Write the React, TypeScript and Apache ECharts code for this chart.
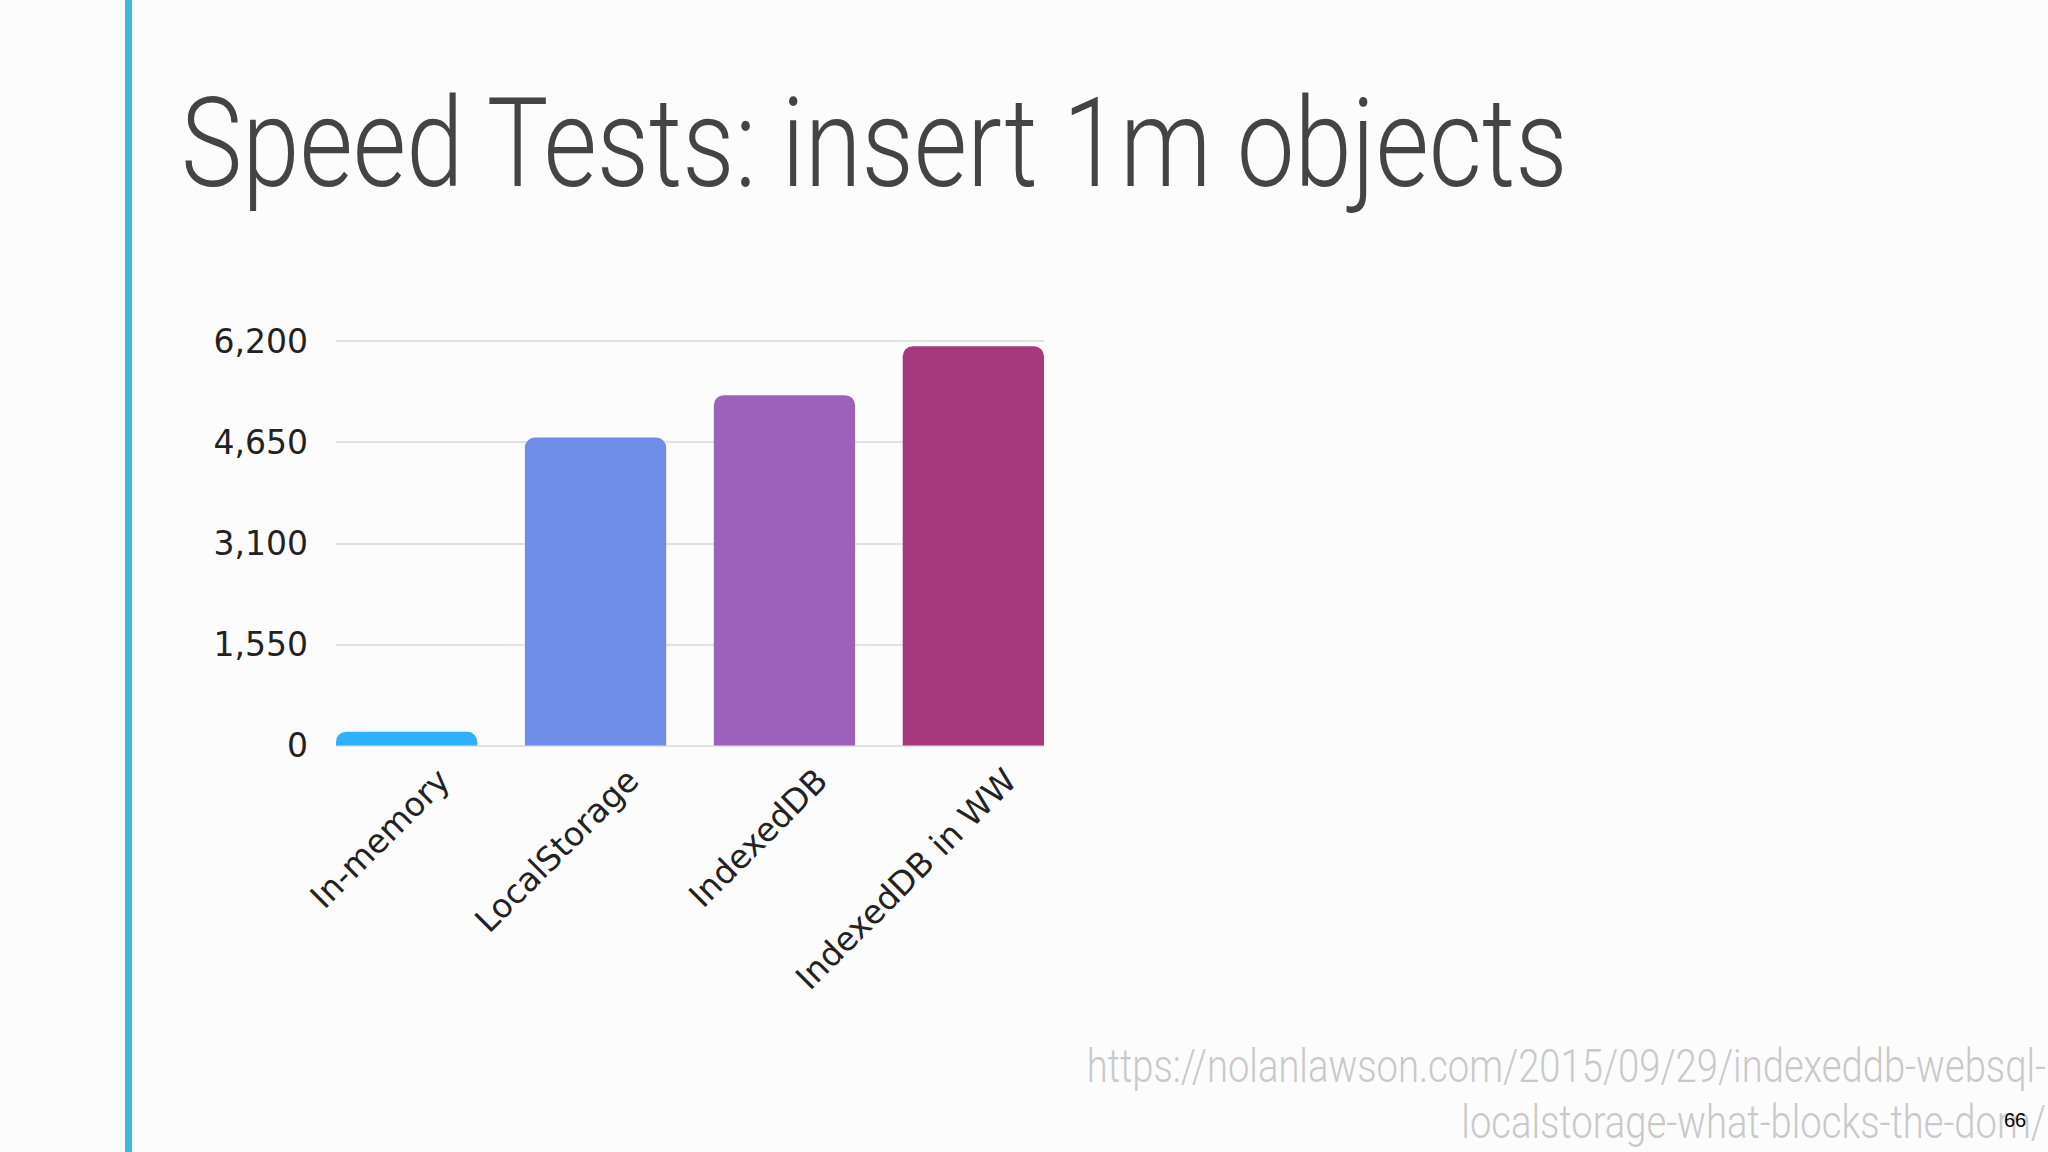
import React, { useEffect, useRef } from "react";
import * as echarts from "echarts";

const categories = ["In-memory", "LocalStorage", "IndexedDB", "IndexedDB in WW"];
const insertTimes = [210, 4720, 5370, 6120];
const barColors = ["#2fb0fa", "#6f8de6", "#9c62bb", "#a6397d"];
const yMin = 0;
const yMax = 6200;
const yInterval = 1550;
const titleText = "Speed Tests: insert 1m objects";
const sourceLines = [
  "https://nolanlawson.com/2015/09/29/indexeddb-websql-",
  "localstorage-what-blocks-the-dom/",
];
const pageNumber = "66";

export default function App() {
  const ref = useRef<HTMLDivElement>(null);

  useEffect(() => {
    if (!ref.current) return;
    const chart = echarts.init(ref.current, undefined, { renderer: "svg" });
    const labelFont = { fontFamily: "DejaVu Sans", fontSize: 33, color: "#222" };
    const plotTop = 341;
    const plotHeight = 404.5;
    const barGridLeft = 312.2;
    const barGridWidth = 755.6;

    const option: any = {
      animation: false,
      backgroundColor: "#fcfcfc",
      grid: [
        { left: 336, width: 708, top: plotTop, height: plotHeight },
        { left: barGridLeft, width: barGridWidth, top: plotTop, height: plotHeight },
        { left: barGridLeft + 37, width: barGridWidth, top: plotTop, height: plotHeight },
      ],
      xAxis: [
        { type: "category", gridIndex: 0, data: categories, show: false },
        { type: "category", gridIndex: 1, data: categories, show: false },
        {
          type: "category",
          gridIndex: 2,
          data: categories,
          axisLine: { show: false },
          axisTick: { show: false },
          axisLabel: { ...labelFont, rotate: 45, margin: 29, interval: 0 },
        },
      ],
      yAxis: [
        {
          type: "value",
          gridIndex: 0,
          min: yMin,
          max: yMax,
          interval: yInterval,
          axisLine: { show: false },
          axisTick: { show: false },
          axisLabel: {
            ...labelFont,
            margin: 28,
            formatter: (v: number) => v.toLocaleString("en-US"),
          },
          splitLine: { lineStyle: { color: "#e2e2e2", width: 2 } },
        },
        { type: "value", gridIndex: 1, min: yMin, max: yMax, interval: yInterval, show: false },
        { type: "value", gridIndex: 2, min: yMin, max: yMax, interval: yInterval, show: false },
      ],
      series: [
        {
          type: "bar",
          xAxisIndex: 1,
          yAxisIndex: 1,
          barCategoryGap: "25.2%",
          data: insertTimes.map((v, i) => ({
            value: v,
            itemStyle: { color: barColors[i], borderRadius: [10, 10, 0, 0] },
          })),
        },
      ],
      graphic: [
        {
          type: "rect",
          left: 125,
          top: 0,
          shape: { width: 7, height: 1152 },
          style: { fill: "#3dbad8" },
        },
        {
          type: "text",
          x: 181,
          y: 143,
          scaleX: 0.826,
          style: {
            text: titleText,
            fontFamily: "Roboto",
            fontWeight: 300,
            fontSize: 125,
            fill: "#444",
            verticalAlign: "middle",
            align: "left",
          },
        },
        {
          type: "text",
          x: 2046,
          y: 1066,
          scaleX: 0.83,
          style: {
            text: sourceLines[0],
            fontFamily: "Roboto",
            fontWeight: 300,
            fontSize: 46,
            fill: "#c9c9c9",
            align: "right",
            verticalAlign: "middle",
          },
        },
        {
          type: "text",
          x: 2046,
          y: 1122,
          scaleX: 0.83,
          style: {
            text: sourceLines[1],
            fontFamily: "Roboto",
            fontWeight: 300,
            fontSize: 46,
            fill: "#c9c9c9",
            align: "right",
            verticalAlign: "middle",
          },
        },
        {
          type: "text",
          x: 2015,
          y: 1120,
          z: 10,
          style: {
            text: pageNumber,
            fontFamily: "Liberation Sans",
            fontSize: 20,
            fill: "#000",
            align: "center",
            verticalAlign: "middle",
          },
        },
      ],
    };
    chart.setOption(option);
    return () => chart.dispose();
  }, []);

  return (
    <div
      ref={ref}
      style={{ position: "fixed", left: 0, top: 0, width: 2048, height: 1152 }}
    />
  );
}
